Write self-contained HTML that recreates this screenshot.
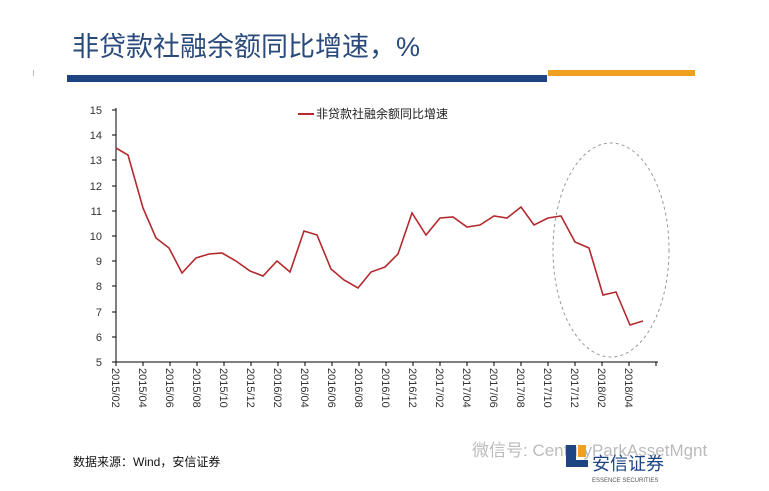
<!DOCTYPE html>
<html><head><meta charset="utf-8"><style>
body{margin:0;background:#fff;width:769px;height:486px;overflow:hidden;font-family:"Liberation Sans","Noto Sans CJK SC",sans-serif}
</style></head><body>
<svg width="769" height="486" xmlns="http://www.w3.org/2000/svg" font-family="Liberation Sans, Noto Sans CJK SC, sans-serif">
<text x="72" y="56" font-size="27" fill="#2a4a7c">非贷款社融余额同比增速，%</text>
<rect x="67" y="75" width="480" height="7" fill="#1e4482"/>
<rect x="548" y="70" width="147" height="6" fill="#f0a020"/>
<rect x="33" y="70" width="1" height="6" fill="#bbb"/>
<g font-size="11" fill="#333" text-anchor="end">
<text x="102" y="114">15</text><text x="102" y="139">14</text><text x="102" y="164">13</text><text x="102" y="190">12</text><text x="102" y="215">11</text><text x="102" y="240">10</text><text x="102" y="265">9</text><text x="102" y="290">8</text><text x="102" y="316">7</text><text x="102" y="341">6</text><text x="102" y="366">5</text>
</g>
<line x1="116" y1="108" x2="116" y2="362" stroke="#000"/>
<line x1="116" y1="362" x2="658" y2="362" stroke="#000"/>
<g stroke="#000">
<line x1="112" y1="110" x2="116" y2="110"/><line x1="112" y1="135" x2="116" y2="135"/><line x1="112" y1="160" x2="116" y2="160"/><line x1="112" y1="186" x2="116" y2="186"/><line x1="112" y1="211" x2="116" y2="211"/><line x1="112" y1="236" x2="116" y2="236"/><line x1="112" y1="261" x2="116" y2="261"/><line x1="112" y1="286" x2="116" y2="286"/><line x1="112" y1="312" x2="116" y2="312"/><line x1="112" y1="337" x2="116" y2="337"/><line x1="112" y1="362" x2="116" y2="362"/>
<line x1="116" y1="362" x2="116" y2="366"/><line x1="143" y1="362" x2="143" y2="366"/><line x1="170" y1="362" x2="170" y2="366"/><line x1="197" y1="362" x2="197" y2="366"/><line x1="224" y1="362" x2="224" y2="366"/><line x1="251" y1="362" x2="251" y2="366"/><line x1="278" y1="362" x2="278" y2="366"/><line x1="305" y1="362" x2="305" y2="366"/><line x1="332" y1="362" x2="332" y2="366"/><line x1="359" y1="362" x2="359" y2="366"/><line x1="386" y1="362" x2="386" y2="366"/><line x1="413" y1="362" x2="413" y2="366"/><line x1="440" y1="362" x2="440" y2="366"/><line x1="467" y1="362" x2="467" y2="366"/><line x1="494" y1="362" x2="494" y2="366"/><line x1="521" y1="362" x2="521" y2="366"/><line x1="548" y1="362" x2="548" y2="366"/><line x1="575" y1="362" x2="575" y2="366"/><line x1="602" y1="362" x2="602" y2="366"/><line x1="629" y1="362" x2="629" y2="366"/><line x1="656" y1="362" x2="656" y2="366"/>
</g>
<g font-size="11" fill="#333">
<text transform="translate(112,368) rotate(90)">2015/02</text>
<text transform="translate(139,368) rotate(90)">2015/04</text>
<text transform="translate(166,368) rotate(90)">2015/06</text>
<text transform="translate(193,368) rotate(90)">2015/08</text>
<text transform="translate(220,368) rotate(90)">2015/10</text>
<text transform="translate(247,368) rotate(90)">2015/12</text>
<text transform="translate(274,368) rotate(90)">2016/02</text>
<text transform="translate(301,368) rotate(90)">2016/04</text>
<text transform="translate(328,368) rotate(90)">2016/06</text>
<text transform="translate(355,368) rotate(90)">2016/08</text>
<text transform="translate(382,368) rotate(90)">2016/10</text>
<text transform="translate(409,368) rotate(90)">2016/12</text>
<text transform="translate(436,368) rotate(90)">2017/02</text>
<text transform="translate(463,368) rotate(90)">2017/04</text>
<text transform="translate(490,368) rotate(90)">2017/06</text>
<text transform="translate(517,368) rotate(90)">2017/08</text>
<text transform="translate(544,368) rotate(90)">2017/10</text>
<text transform="translate(571,368) rotate(90)">2017/12</text>
<text transform="translate(598,368) rotate(90)">2018/02</text>
<text transform="translate(625,368) rotate(90)">2018/04</text>
</g>
<line x1="298" y1="114" x2="314" y2="114" stroke="#b22a2e" stroke-width="2"/>
<text x="316" y="118" font-size="12" fill="#222">非贷款社融余额同比增速</text>
<polyline fill="none" stroke="#b22a2e" stroke-width="1.6" points="116,148 128,155 143,208 156,238 169,248 182,273 196,258 209,254 222,253 236,261 250,271 263,276 277,261 290,272 304,231 317,235 331,269 344,280 358,288 371,272 385,267 398,254 412,213 426,235 440,218 453,217 467,227 480,225 494,216 507,218 521,207 534,225 548,218 561,216 575,242 589,248 603,295 616,292 630,325 643,321"/>
<ellipse cx="611" cy="250" rx="58" ry="107" fill="none" stroke="#999" stroke-dasharray="3,3"/>
<text x="73" y="466" font-size="12" fill="#111">数据来源：Wind，安信证券</text>
<text x="472" y="456" font-size="17" fill="#bbb">微信号: CenturyParkAssetMgnt</text>
<rect x="566" y="445" width="10" height="22" fill="#1e4482"/><rect x="566" y="460" width="22" height="7" fill="#1e4482"/><rect x="578" y="445" width="8" height="12" fill="#f0a020"/>
<text x="592" y="470" font-size="18" fill="#1e4482">安信证券</text>
<text x="592" y="482" font-size="6" fill="#555">ESSENCE SECURITIES</text>
</svg>
</body></html>
